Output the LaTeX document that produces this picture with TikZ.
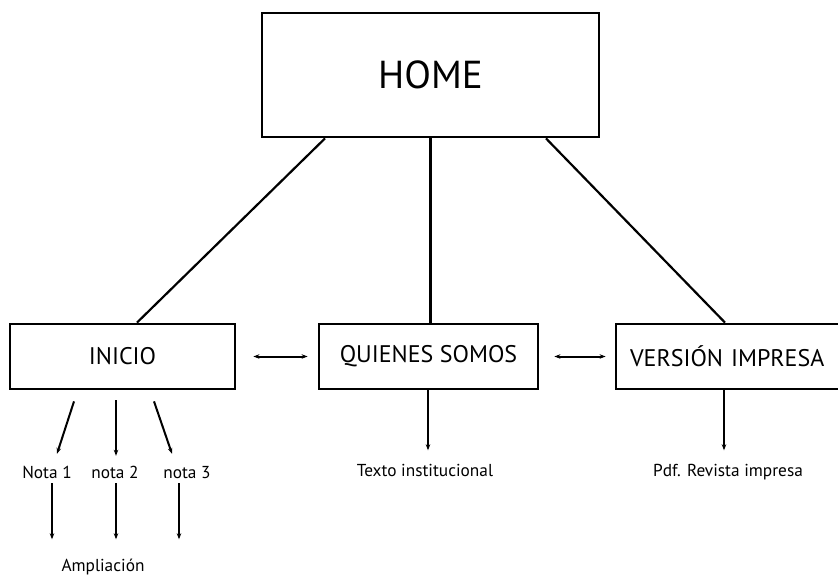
\documentclass[tikz,border=0pt]{standalone}
\usepackage{fontspec}
\setmainfont{PT Sans}
\usetikzlibrary{arrows.meta}

\tikzset{
  page/.style={draw, line width=2.8pt, minimum height=65pt, inner sep=0pt, font=\fontsize{24}{28}\selectfont},
  txt/.style={inner sep=0pt, text height=12pt, text depth=3pt, font=\fontsize{17.3}{20}\selectfont},
  arr/.style={-{Stealth[length=6pt,width=4.5pt]}, line width=2pt},
  link/.style={{Stealth[length=6pt,width=4.5pt]}-{Stealth[length=6pt,width=4.5pt]}, line width=2pt}
}

\begin{document}
\begin{tikzpicture}[x=1pt, y=-1pt]

\useasboundingbox (0,0) rectangle (838,578);
\clip (0,0) rectangle (838,578);

% main pages
\node [draw, line width=2.8pt, minimum width=337pt, minimum height=124pt, font=\fontsize{39}{44}\selectfont] (home) at (430.5,75) {HOME};
\node [page, minimum width=225pt] (inicio) at (122.5,356.5) {INICIO};
\node [page, minimum width=219pt] (quienes) at (428.5,356.5) {QUIENES SOMOS};
\node [page, minimum width=232pt, text width=204pt, inner xsep=14pt, align=left] (version) at (732,356.5) {VERSIÓN IMPRESA};

\draw [line width=2.2pt] ([xshift=-105.5pt]home.south) -- ([xshift=14.5pt]inicio.north);
\draw [line width=2.2pt] (home.south) -- (home.south |- quienes.north);
\draw [line width=2.2pt] ([xshift=115.5pt]home.south) -- ([xshift=-7pt]version.north);

\draw [link, shorten <=17pt, shorten >=10pt] (inicio.east) -- (quienes.west);
\draw [link, shorten <=15pt, shorten >=9pt] (quienes.east) -- (version.west);

% contents
\node [txt] (nota1) at (47,473.5) {Nota 1};
\node [txt] (nota2) at (115,473.5) {nota 2};
\node [txt] (nota3) at (187,473.5) {nota 3};
\node [txt] (ampl) at (103,567) {Ampliación};
\node [txt] (texto) at (425,472) {Texto institucional};
\node [txt] (pdf) at (728,472) {Pdf. Revista impresa};

\draw [arr] ([xshift=-48.5pt,yshift=-11pt]inicio.south) -- ([xshift=10pt,yshift=12pt]nota1.north);
\draw [arr] ([xshift=-6.5pt,yshift=-10pt]inicio.south) -- ([xshift=1pt,yshift=10pt]nota2.north);
\draw [arr] ([xshift=31.5pt,yshift=-11pt]inicio.south) -- ([xshift=-15pt,yshift=12pt]nota3.north);

\foreach \n/\dx in {nota1/5, nota2/1, nota3/-8} {
  \draw [arr, shorten <=2pt, shorten >=20pt] ([xshift=\dx pt]\n.south) -- ([xshift=\dx pt]\n.south |- ampl.north);
}

\draw [arr, shorten >=14pt] ([xshift=-0.5pt]quienes.south) -- ([xshift=-0.5pt]quienes.south |- texto.north);
\draw [arr, shorten >=14pt] ([xshift=-8pt]version.south) -- ([xshift=-8pt]version.south |- pdf.north);

\end{tikzpicture}
\end{document}
